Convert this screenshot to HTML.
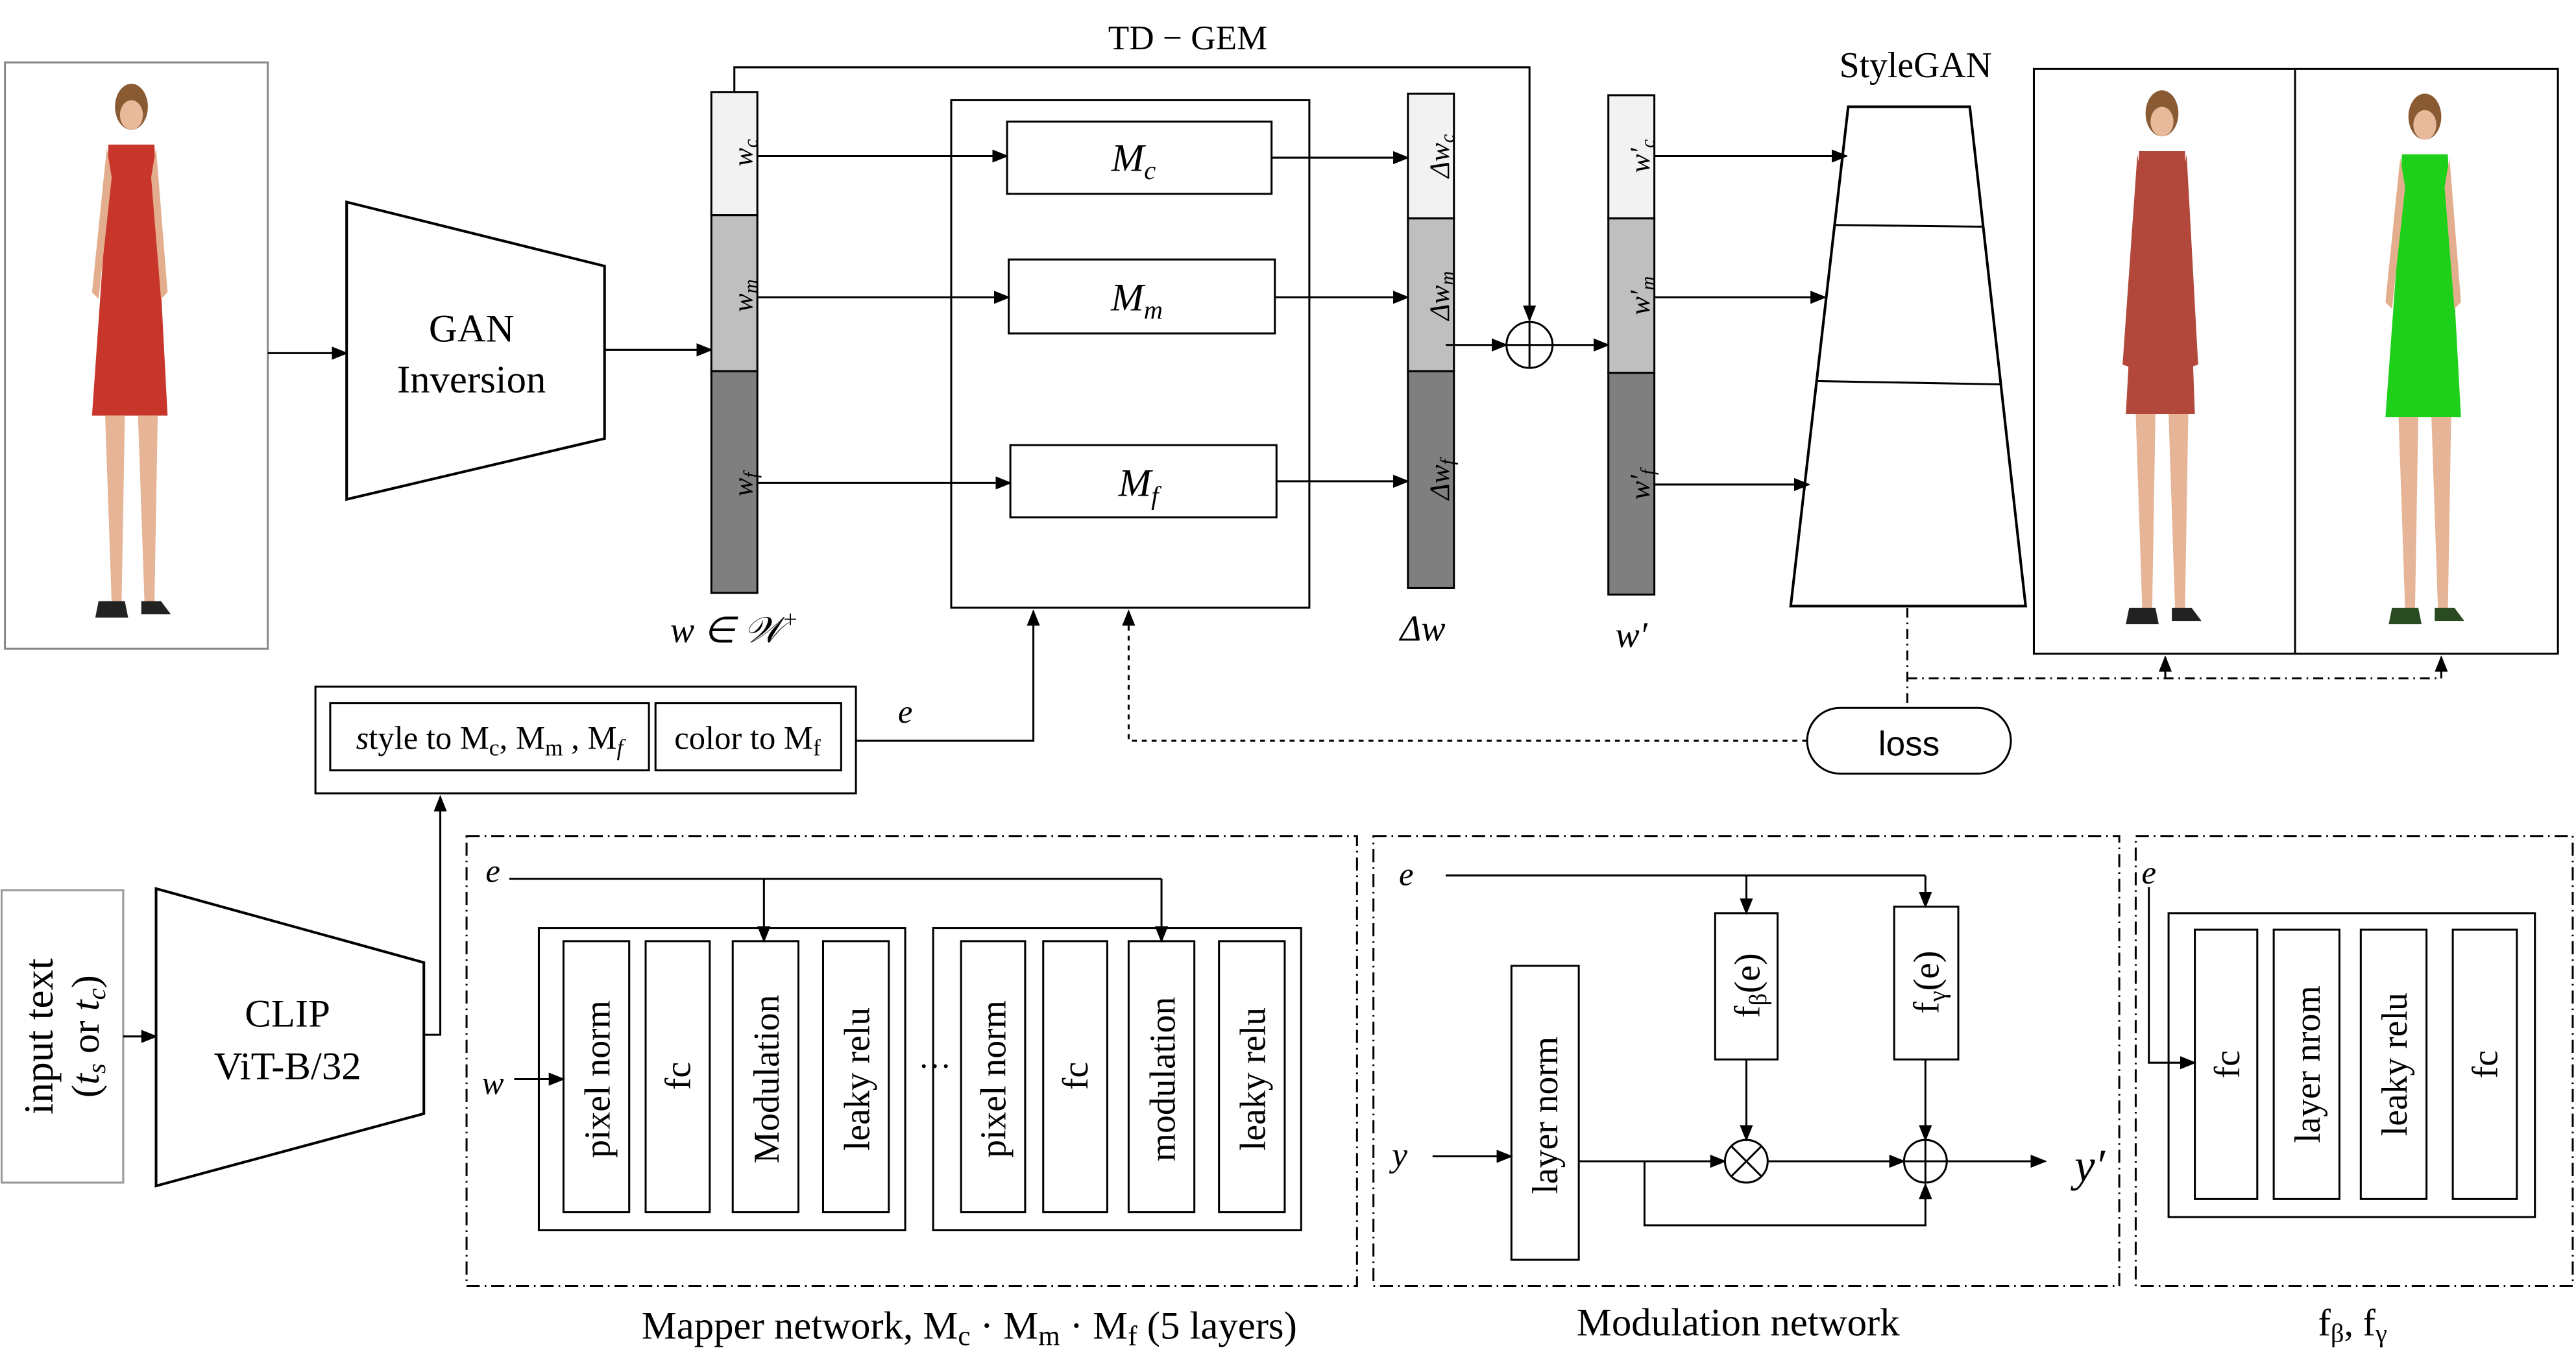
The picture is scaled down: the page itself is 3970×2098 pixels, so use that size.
<!DOCTYPE html>
<html><head><meta charset="utf-8"><style>html,body{margin:0;padding:0;background:#fff}svg{display:block}</style></head><body>
<svg width="3970" height="2098" viewBox="0 0 1568 828.6" preserveAspectRatio="none" xmlns="http://www.w3.org/2000/svg" font-family="'Liberation Serif',serif">
<defs>
<marker id="a" markerWidth="10" markerHeight="8" refX="9" refY="4" orient="auto" markerUnits="userSpaceOnUse"><path d="M0,0 L10,4 L0,8 z" fill="#000"/></marker>
</defs>
<rect width="1568" height="828.6" fill="#fff"/>
<rect x="3" y="38" width="160" height="357" fill="none" stroke="#888" stroke-width="1.2"/>
<g transform="translate(80,68)">
<ellipse cx="0" cy="-3" rx="10" ry="14" fill="#8a5a33"/><ellipse cx="0" cy="2" rx="7" ry="9" fill="#e8b99a"/>
<path d="M-14,20 L14,20 L16,70 L22,185 L-24,185 L-16,70 Z" fill="#c8352a"/>
<path d="M-15,22 L-24,110 L-20,114 L-12,40 Z" fill="#e3ae8e"/><path d="M15,22 L22,110 L18,114 L12,40 Z" fill="#e3ae8e"/>
<path d="M-16,185 L-12,300 L-6,300 L-4,185 Z" fill="#e6b497"/><path d="M4,185 L8,300 L14,300 L16,185 Z" fill="#e6b497"/>
<path d="M-20,298 L-4,298 L-2,308 L-22,308 Z" fill="#222"/><path d="M6,298 L18,298 L24,306 L6,306 Z" fill="#222"/>
</g>
<rect x="1238" y="42" width="319" height="356" fill="none" stroke="#000" stroke-width="1.2"/>
<line x1="1397" y1="42" x2="1397" y2="398" stroke="#000" stroke-width="1.2"/>
<g transform="translate(1316,72)">
<ellipse cx="0" cy="-3" rx="10" ry="14" fill="#8a5a33"/><ellipse cx="0" cy="2" rx="7" ry="9" fill="#e8b99a"/>
<path d="M-14,20 L14,20 L16,70 L20,180 L-22,180 L-16,70 Z" fill="#b2483c"/>
<path d="M-15,22 L-24,150 L-18,152 L-12,40 Z" fill="#b2483c"/><path d="M15,22 L22,150 L16,152 L12,40 Z" fill="#b2483c"/>
<path d="M-16,180 L-12,300 L-6,300 L-4,180 Z" fill="#e6b497"/><path d="M4,180 L8,300 L14,300 L16,180 Z" fill="#e6b497"/>
<path d="M-20,298 L-4,298 L-2,308 L-22,308 Z" fill="#222"/><path d="M6,298 L18,298 L24,306 L6,306 Z" fill="#222"/>
</g>
<g transform="translate(1476,74)">
<ellipse cx="0" cy="-3" rx="10" ry="14" fill="#8a5a33"/><ellipse cx="0" cy="2" rx="7" ry="9" fill="#e8b99a"/>
<path d="M-14,20 L14,20 L16,70 L22,180 L-24,180 L-16,70 Z" fill="#1fd01a"/>
<path d="M-15,22 L-24,110 L-20,114 L-12,40 Z" fill="#e3ae8e"/><path d="M15,22 L22,110 L18,114 L12,40 Z" fill="#e3ae8e"/>
<path d="M-16,180 L-12,298 L-6,298 L-4,180 Z" fill="#e6b497"/><path d="M4,180 L8,298 L14,298 L16,180 Z" fill="#e6b497"/>
<path d="M-20,296 L-4,296 L-2,306 L-22,306 Z" fill="#2a4a22"/><path d="M6,296 L18,296 L24,304 L6,304 Z" fill="#2a4a22"/>
</g>

<g stroke="#000" stroke-width="1.2" fill="none">
<path d="M211,123 L368,162 L368,267 L211,304 Z" fill="#fff" stroke-width="1.6"/>
<line x1="163" y1="215" x2="211" y2="215" marker-end="url(#a)"/>
<line x1="368" y1="213" x2="433" y2="213" marker-end="url(#a)"/>
<rect x="433" y="56" width="28" height="75" fill="#f2f2f2"/>
<rect x="433" y="131" width="28" height="95" fill="#bfbfbf"/>
<rect x="433" y="226" width="28" height="135" fill="#7f7f7f"/>
<path d="M447,56 L447,41 L931,41 L931,195" marker-end="url(#a)"/>
<rect x="579" y="61" width="218" height="309"/>
<rect x="613" y="74" width="161" height="44"/>
<rect x="614" y="158" width="162" height="45"/>
<rect x="615" y="271" width="162" height="44"/>
<line x1="461" y1="95" x2="613" y2="95" marker-end="url(#a)"/>
<line x1="461" y1="181" x2="614" y2="181" marker-end="url(#a)"/>
<line x1="461" y1="294" x2="615" y2="294" marker-end="url(#a)"/>
<line x1="774" y1="96" x2="857" y2="96" marker-end="url(#a)"/>
<line x1="776" y1="181" x2="857" y2="181" marker-end="url(#a)"/>
<line x1="777" y1="293" x2="857" y2="293" marker-end="url(#a)"/>
<rect x="857" y="57" width="28" height="76" fill="#f2f2f2"/>
<rect x="857" y="133" width="28" height="93" fill="#bfbfbf"/>
<rect x="857" y="226" width="28" height="132" fill="#7f7f7f"/>
<line x1="880" y1="210" x2="917" y2="210" marker-end="url(#a)"/>
<circle cx="931" cy="210" r="14" fill="#fff"/>
<line x1="917" y1="210" x2="945" y2="210"/><line x1="931" y1="196" x2="931" y2="224"/>
<line x1="945" y1="210" x2="979" y2="210" marker-end="url(#a)"/>
<rect x="979" y="58" width="28" height="75" fill="#f2f2f2"/>
<rect x="979" y="133" width="28" height="94" fill="#bfbfbf"/>
<rect x="979" y="227" width="28" height="135" fill="#7f7f7f"/>
<line x1="1007" y1="95" x2="1124" y2="95" marker-end="url(#a)"/>
<line x1="1007" y1="181" x2="1111" y2="181" marker-end="url(#a)"/>
<line x1="1007" y1="295" x2="1101" y2="295" marker-end="url(#a)"/>
<path d="M1125,65 L1199,65 L1233,369 L1090,369 Z" stroke-width="1.6"/>
<line x1="1117" y1="137" x2="1207" y2="138"/>
<line x1="1106" y1="232" x2="1218" y2="234"/>
<path d="M1161,370 L1161,431" stroke-dasharray="6,3,1,3"/>
<path d="M1161,413 L1486,413" stroke-dasharray="6,3,1,3"/>
<line x1="1318" y1="413" x2="1318" y2="400" marker-end="url(#a)"/>
<line x1="1486" y1="413" x2="1486" y2="400" marker-end="url(#a)"/>
<rect x="1100" y="431" width="124" height="40" rx="20"/>
<path d="M1100,451 L687,451 L687,372" stroke-dasharray="3,3" marker-end="url(#a)"/>
<rect x="192" y="418" width="329" height="65"/>
<rect x="201" y="428" width="194" height="41"/>
<rect x="399" y="428" width="113" height="41"/>
<path d="M521,451 L629,451 L629,372" marker-end="url(#a)"/>
<rect x="1" y="542" width="74" height="178" stroke="#999"/>
<line x1="75" y1="631" x2="95" y2="631" marker-end="url(#a)"/>
<path d="M95,541 L258,586 L258,678 L95,722 Z" stroke-width="1.6"/>
<path d="M258,630 L268,630 L268,485" marker-end="url(#a)"/>
<rect x="284" y="509" width="542" height="274" stroke-dasharray="8,3,1,3"/>
<rect x="328" y="565" width="223" height="184"/>
<rect x="568" y="565" width="224" height="184"/>
<rect x="343" y="573" width="40" height="165"/><rect x="393" y="573" width="39" height="165"/>
<rect x="446" y="573" width="40" height="165"/><rect x="501" y="573" width="40" height="165"/>
<rect x="585" y="573" width="39" height="165"/><rect x="635" y="573" width="39" height="165"/>
<rect x="687" y="573" width="40" height="165"/><rect x="742" y="573" width="40" height="165"/>
<path d="M310,535 L707,535"/>
<line x1="465" y1="535" x2="465" y2="573" marker-end="url(#a)"/>
<line x1="707" y1="535" x2="707" y2="573" marker-end="url(#a)"/>
<line x1="313" y1="657" x2="343" y2="657" marker-end="url(#a)"/>
<rect x="836" y="509" width="454" height="274" stroke-dasharray="8,3,1,3"/>
<line x1="880" y1="533" x2="1172" y2="533"/>
<line x1="1063" y1="533" x2="1063" y2="556" marker-end="url(#a)"/>
<line x1="1172" y1="533" x2="1172" y2="552" marker-end="url(#a)"/>
<rect x="1044" y="556" width="38" height="89"/>
<rect x="1153" y="552" width="39" height="93"/>
<rect x="920" y="588" width="41" height="179"/>
<line x1="872" y1="704" x2="920" y2="704" marker-end="url(#a)"/>
<line x1="961" y1="707" x2="1050" y2="707" marker-end="url(#a)"/>
<circle cx="1063" cy="707" r="13" fill="#fff"/>
<line x1="1054" y1="698" x2="1072" y2="716"/><line x1="1072" y1="698" x2="1054" y2="716"/>
<line x1="1076" y1="707" x2="1159" y2="707" marker-end="url(#a)"/>
<circle cx="1172" cy="707" r="13" fill="#fff"/>
<line x1="1159" y1="707" x2="1185" y2="707"/><line x1="1172" y1="694" x2="1172" y2="720"/>
<line x1="1185" y1="707" x2="1245" y2="707" marker-end="url(#a)"/>
<path d="M1001,707 L1001,746 L1172,746 L1172,721" marker-end="url(#a)"/>
<line x1="1063" y1="645" x2="1063" y2="694" marker-end="url(#a)"/>
<line x1="1172" y1="645" x2="1172" y2="694" marker-end="url(#a)"/>
<rect x="1300" y="509" width="266" height="274" stroke-dasharray="8,3,1,3"/>
<path d="M1308,540 L1308,647 L1336,647" marker-end="url(#a)"/>
<rect x="1320" y="556" width="223" height="185"/>
<rect x="1336" y="566" width="38" height="164"/><rect x="1384" y="566" width="40" height="164"/>
<rect x="1437" y="566" width="40" height="164"/><rect x="1493" y="566" width="39" height="164"/>
</g>

<g font-size="22" text-anchor="middle" fill="#000">
<text x="287" y="208" font-size="24">GAN</text><text x="287" y="239" font-size="24">Inversion</text>
<text x="723" y="30" font-size="21">TD − GEM</text>
<text x="1166" y="47" font-size="22">StyleGAN</text>
<text x="690" y="104" font-style="italic" font-size="24">M<tspan font-size="16" dy="5">c</tspan></text>
<text x="692" y="189" font-style="italic" font-size="24">M<tspan font-size="16" dy="5">m</tspan></text>
<text x="693" y="302" font-style="italic" font-size="24">M<tspan font-size="16" dy="5">f</tspan></text>
<text x="447" y="391" font-style="italic">w ∈ 𝒲<tspan font-size="15" dy="-9">+</tspan></text>
<text x="866" y="390" font-style="italic">Δw</text>
<text x="993" y="394" font-style="italic">w′</text>
<text x="1162" y="460" font-family="'Liberation Sans',sans-serif" font-size="21">loss</text>
<text x="551" y="440" font-style="italic" font-size="20">e</text>
<text x="298" y="456" font-size="20"><tspan font-style="italic">s</tspan>tyle to M<tspan font-size="14" dy="4">c</tspan><tspan dy="-4">, M</tspan><tspan font-size="14" dy="4">m</tspan><tspan dy="-4"> , M</tspan><tspan font-size="14" dy="4" font-style="italic">f</tspan></text>
<text x="455" y="456" font-size="20">color to M<tspan font-size="14" dy="4">f</tspan></text>
<text x="175" y="625" font-size="24">CLIP</text><text x="175" y="657" font-size="24">ViT-B/32</text>
<text x="300" y="537" font-style="italic" font-size="20">e</text>
<text x="300" y="666" font-style="italic" font-size="20">w</text>
<text x="569" y="650" font-size="20">…</text>
<text x="856" y="539" font-style="italic" font-size="20">e</text>
<text x="852" y="710" font-style="italic" font-size="21">y</text>
<text x="1272" y="719" font-style="italic" font-size="28">y′</text>
<text x="1308" y="538" font-style="italic" font-size="20">e</text>
<text x="590" y="815" font-size="24">Mapper network, M<tspan font-size="17" dy="4">c</tspan><tspan dy="-4"> · M</tspan><tspan font-size="17" dy="4">m</tspan><tspan dy="-4"> · M</tspan><tspan font-size="17" dy="4">f</tspan><tspan dy="-4"> (5 layers)</tspan></text>
<text x="1058" y="813" font-size="24">Modulation network</text>
<text x="1432" y="813" font-size="23">f<tspan font-size="16" dy="4">β</tspan><tspan dy="-4">, f</tspan><tspan font-size="16" dy="4">γ</tspan></text>
</g>

<g font-size="18" text-anchor="middle" fill="#000">
<text transform="translate(452,93) rotate(-90)" font-style="italic" font-size="17" dy="6">w<tspan font-size="12" dy="3">c</tspan></text>
<text transform="translate(452,180) rotate(-90)" font-style="italic" font-size="17" dy="6">w<tspan font-size="12" dy="3">m</tspan></text>
<text transform="translate(452,295) rotate(-90)" font-style="italic" font-size="17" dy="6">w<tspan font-size="12" dy="3">f</tspan></text>
<text transform="translate(876,95) rotate(-90)" font-style="italic" font-size="17" dy="6">Δw<tspan font-size="12" dy="3">c</tspan></text>
<text transform="translate(876,180) rotate(-90)" font-style="italic" font-size="17" dy="6">Δw<tspan font-size="12" dy="3">m</tspan></text>
<text transform="translate(876,292) rotate(-90)" font-style="italic" font-size="17" dy="6">Δw<tspan font-size="12" dy="3">f</tspan></text>
<text transform="translate(998,95) rotate(-90)" font-style="italic" font-size="17" dy="6">w′<tspan font-size="12" dy="3">c</tspan></text>
<text transform="translate(998,180) rotate(-90)" font-style="italic" font-size="17" dy="6">w′<tspan font-size="12" dy="3">m</tspan></text>
<text transform="translate(998,295) rotate(-90)" font-style="italic" font-size="17" dy="6">w′<tspan font-size="12" dy="3">f</tspan></text>
<text transform="translate(32,631) rotate(-90)" font-size="25">input text</text>
<text transform="translate(60,631) rotate(-90)" font-size="24">(<tspan font-style="italic">t<tspan font-size="16" dy="4">s</tspan></tspan><tspan dy="-4"> or </tspan><tspan font-style="italic">t<tspan font-size="16" dy="4">c</tspan></tspan><tspan dy="-4">)</tspan></text>
<g font-size="22">
<text transform="translate(363,657) rotate(-90)" dy="8">pixel norm</text>
<text transform="translate(412,655) rotate(-90)" dy="8">fc</text>
<text transform="translate(466,657) rotate(-90)" dy="8">Modulation</text>
<text transform="translate(521,657) rotate(-90)" dy="8">leaky relu</text>
<text transform="translate(604,657) rotate(-90)" dy="8">pixel norm</text>
<text transform="translate(654,655) rotate(-90)" dy="8">fc</text>
<text transform="translate(707,657) rotate(-90)" dy="8">modulation</text>
<text transform="translate(762,657) rotate(-90)" dy="8">leaky relu</text>
<text transform="translate(940,679) rotate(-90)" dy="8">layer norm</text>
<text transform="translate(1063,600) rotate(-90)" dy="8">f<tspan font-size="15" dy="4">β</tspan><tspan dy="-4">(e)</tspan></text>
<text transform="translate(1172,598) rotate(-90)" dy="8">f<tspan font-size="15" dy="4">γ</tspan><tspan dy="-4">(e)</tspan></text>
<text transform="translate(1355,648) rotate(-90)" dy="8">fc</text>
<text transform="translate(1404,648) rotate(-90)" dy="8">layer nrom</text>
<text transform="translate(1457,648) rotate(-90)" dy="8">leaky relu</text>
<text transform="translate(1512,648) rotate(-90)" dy="8">fc</text>
</g>
</g>
</svg>
</body></html>
